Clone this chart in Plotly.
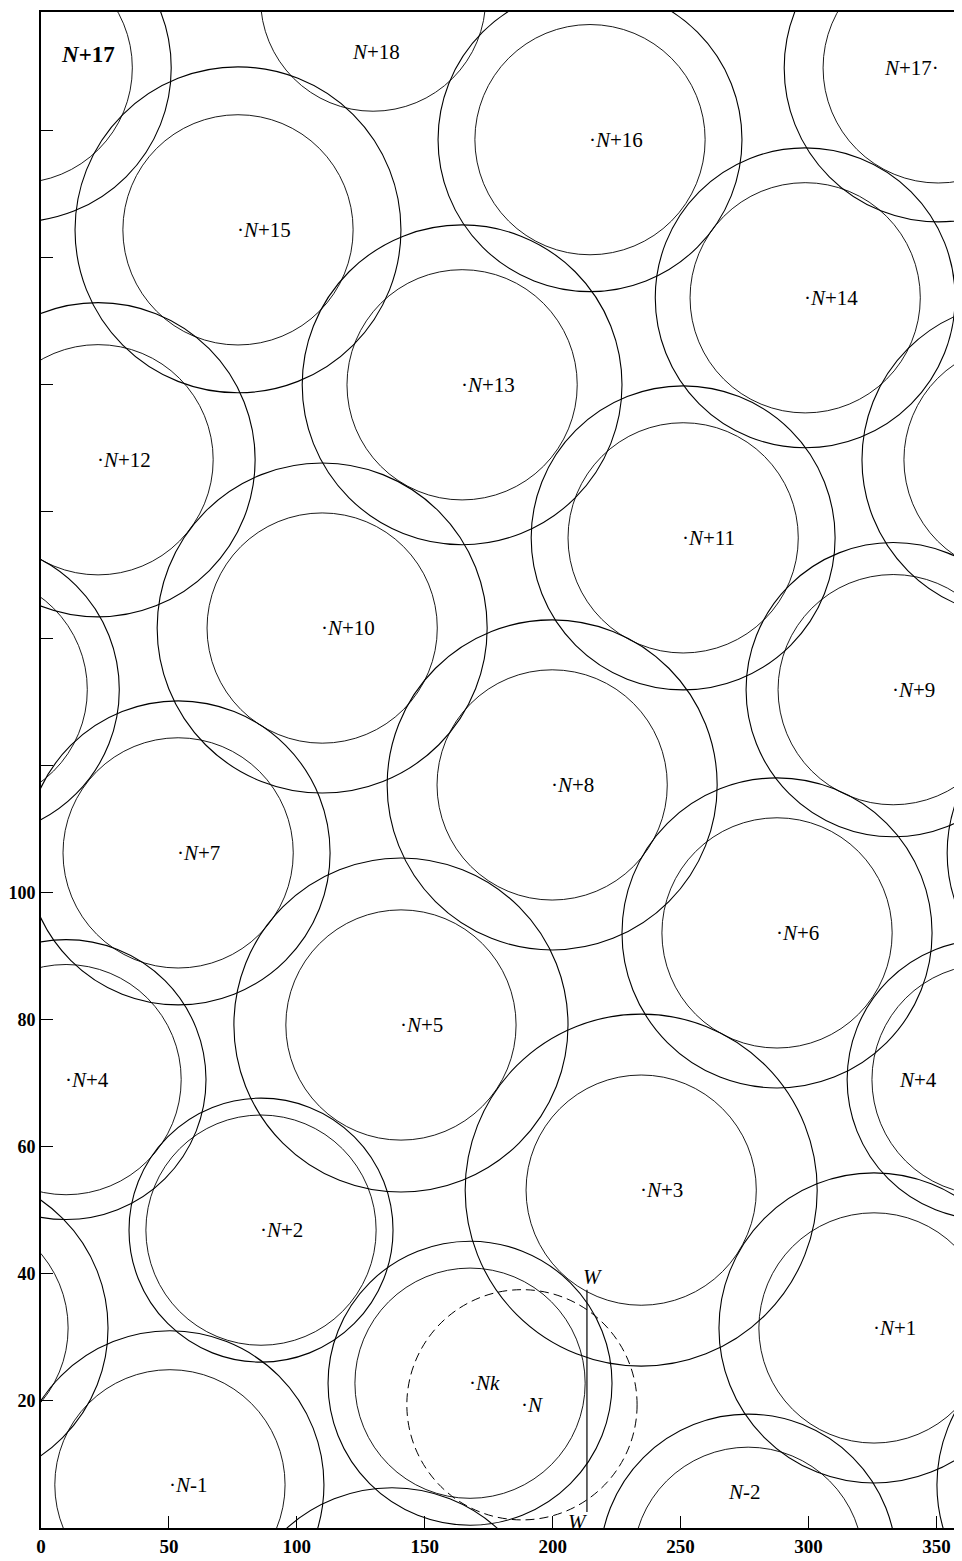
import plotly.graph_objects as go

# ---- data (x in degrees around the cylinder, y in axis units) ----
group_names = ["N-3", "N-2", "N-1", "Nk", "N+1", "N+2", "N+3", "N+4", "N+5", "N+6", "N+7",
               "N+8", "N+9", "N+10", "N+11", "N+12", "N+13", "N+14", "N+15", "N+16", "N+17", "N+18"]
center_x = [137.2, 276.4, 50.4, 167.7, 325.6, 86.0, 234.6, 9.8, 140.7, 287.7, 53.6,
            199.8, 333.1, 109.9, 251.0, 22.3, 164.6, 298.7, 77.0, 214.6, 350.7, 129.8]
center_y = [-18.4, -5.4, 6.8, 22.8, 31.5, 46.9, 53.2, 70.6, 79.2, 93.7, 106.3,
            117.0, 132.0, 141.7, 155.9, 168.2, 180.0, 193.7, 204.4, 218.6, 229.9, 240.8]
inner_r = [None, 45, 45, 45, 45, 45, 45, 45, 45, 45, 45,
           45, 45, 45, 45, 45, 45, 45, 45, 45, 45, 44]
outer_r = [61.4, 57.9, 60.2, 55.5, 60.6, 51.6, 68.8, 54.7, 65.3, 60.6, 59.4,
           64.5, 57.5, 64.5, 59.4, 61.4, 62.5, 58.6, 63.7, 59.4, 60.2, None]

# labels with a centre dot (placed at the circle centre)
dot_labels = ["N-1", "Nk", "N+1", "N+2", "N+3", "N+4", "N+5", "N+6", "N+7", "N+8", "N+9",
              "N+10", "N+11", "N+12", "N+13", "N+14", "N+15", "N+16"]

# dashed circle N
n_center = (188.0, 19.4)
n_radius = 45

# W line
w_x = 213.4
w_y = (2.5, 37.5)

# free labels: text, x, y
free_text = ["<b><i>N</i>+17</b>", "<i>N</i>+17·", "<i>N</i>+18", "<i>N</i>+4", "<i>N</i>-2", "<i>W</i>", "<i>W</i>"]
free_x = [18.4, 350.7, 131.0, 342.8, 274.8, 215.8, 209.9]
free_y = [232.0, 229.9, 232.4, 70.6, 5.7, 39.5, 0.9]
free_anchor = ["center", "right", "center", "center", "center", "center", "center"]

x_ticks = [0, 50, 100, 150, 200, 250, 300, 350]
y_ticks = [20, 40, 60, 80, 100, 120, 140, 160, 180, 200, 220]
y_ticktext = ["20", "40", "60", "80", "100", "", "", "", "", "", ""]

X_RANGE = (0, 360)
Y_RANGE = (0, 238.7)

# ---- layout geometry (page body has an 8px margin, compensated here) ----
W, H = 954, 1553
ML, MR, MT, MB = 33, 0, 4, 33
pw = W - ML - MR
ph = H - MT - MB
px_per_x = pw / (X_RANGE[1] - X_RANGE[0])
px_per_y = ph / (Y_RANGE[1] - Y_RANGE[0])
k = px_per_x / px_per_y  # converts an x-unit radius to y units (round circles on screen)

FONT = "Liberation Serif"
shapes = []


def add_circle(cx, cy, r, width=1.0, dash=None):
    ry = r * k
    for shift in (-360, 0, 360):
        line = dict(color="black", width=width)
        if dash:
            line["dash"] = dash
        shapes.append(dict(type="circle", xref="x", yref="y",
                           x0=cx + shift - r, x1=cx + shift + r,
                           y0=cy - ry, y1=cy + ry, line=line))


for cx, cy, ri, ro in zip(center_x, center_y, inner_r, outer_r):
    if ri is not None:
        add_circle(cx, cy, ri, width=0.9)
    if ro is not None:
        add_circle(cx, cy, ro, width=1.1)

add_circle(n_center[0], n_center[1], n_radius, width=1.0, dash="9px,5px")

shapes.append(dict(type="line", xref="x", yref="y", x0=w_x, x1=w_x, y0=w_y[0], y1=w_y[1],
                   line=dict(color="black", width=1.2)))

annotations = []
lab_font = dict(family=FONT, size=21, color="black")
for name, cx, cy in zip(group_names, center_x, center_y):
    if name in dot_labels:
        txt = "·<i>" + name[0] + "</i>" + name[1:] if name != "Nk" else "·<i>Nk</i>"
        annotations.append(dict(x=cx, y=cy, xref="x", yref="y", text=txt, showarrow=False,
                                xanchor="left", yanchor="middle", xshift=-3, font=lab_font))

annotations.append(dict(x=n_center[0], y=n_center[1], xref="x", yref="y", text="·<i>N</i>",
                        showarrow=False, xanchor="left", yanchor="middle", xshift=-3, font=lab_font))

for t, x, y, a in zip(free_text, free_x, free_y, free_anchor):
    f = dict(lab_font)
    if t.startswith("<b>"):
        f["size"] = 23
    annotations.append(dict(x=x, y=y, xref="x", yref="y", text=t, showarrow=False,
                            xanchor=a, yanchor="middle", xshift=(3 if a == "right" else 0), font=f))

fig = go.Figure()
fig.add_trace(go.Scatter(x=[], y=[], mode="markers", showlegend=False))

x_tick_font = dict(family=FONT, size=19, color="black", weight="bold")
y_tick_font = dict(family=FONT, size=18, color="black", weight="bold")
fig.update_layout(
    width=W, height=H,
    margin=dict(l=ML, r=MR, t=MT, b=MB, pad=0, autoexpand=False),
    paper_bgcolor="white", plot_bgcolor="white",
    showlegend=False,
    shapes=shapes,
    annotations=annotations,
    xaxis=dict(range=list(X_RANGE), tickvals=x_ticks, ticktext=[str(v) for v in x_ticks],
               ticks="inside", ticklen=12, tickwidth=1.2, tickcolor="black",
               showline=True, linecolor="black", linewidth=2, mirror=True,
               showgrid=False, zeroline=False, tickfont=x_tick_font, fixedrange=True),
    yaxis=dict(range=list(Y_RANGE), tickvals=y_ticks, ticktext=y_ticktext,
               ticks="inside", ticklen=12, tickwidth=1.2, tickcolor="black",
               showline=True, linecolor="black", linewidth=2,
               showgrid=False, zeroline=False, tickfont=y_tick_font, fixedrange=True),
)

fig.write_html("out.html")
